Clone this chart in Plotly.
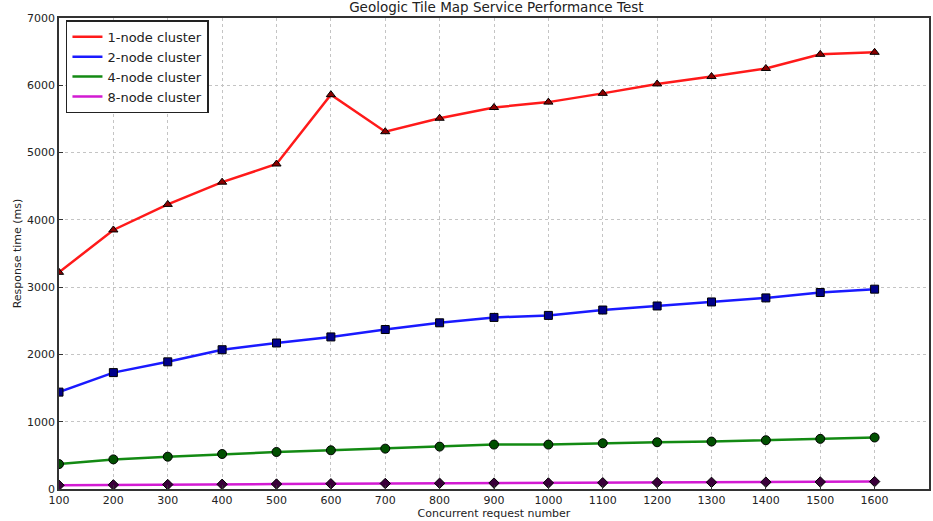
import plotly.graph_objects as go

requests = [100, 200, 300, 400, 500, 600, 700, 800, 900, 1000, 1100, 1200, 1300, 1400, 1500, 1600]
node1 = [3220, 3850, 4230, 4560, 4830, 5860, 5310, 5510, 5670, 5750, 5880, 6020, 6130, 6250, 6460, 6490]
node2 = [1440, 1730, 1890, 2070, 2170, 2260, 2370, 2470, 2550, 2580, 2660, 2720, 2780, 2840, 2920, 2970]
node4 = [370, 440, 480, 520, 550, 575, 600, 630, 660, 660, 680, 695, 705, 725, 745, 765]
node8 = [55, 62, 66, 70, 74, 78, 82, 85, 88, 90, 93, 96, 99, 102, 105, 110]
series_names = ["1-node cluster", "2-node cluster", "4-node cluster", "8-node cluster"]
x_ticks = requests
y_ticks = [0, 1000, 2000, 3000, 4000, 5000, 6000, 7000]

colors = ["#ff1a1a", "#1a1aff", "#138a13", "#d21ad2"]
markers = ["triangle-up", "square", "circle", "diamond"]
msizes = [8, 8, 9, 8]
fills = ["#8a0000", "#00008a", "#005000", "#3a003a"]

fig = go.Figure()
for name, ys, c, m, s, f in zip(series_names, [node1, node2, node4, node8], colors, markers, msizes, fills):
    fig.add_trace(go.Scatter(
        x=requests, y=ys, mode="lines+markers", name=name, showlegend=False,
        line=dict(color=c, width=2.5),
        marker=dict(symbol=m, size=s, color=f, line=dict(color="black", width=1)),
    ))
for name, c in zip(series_names, colors):
    fig.add_trace(go.Scatter(x=[None], y=[None], mode="lines", name=name,
                             line=dict(color=c, width=2.5)))

axis_common = dict(
    showline=True, linecolor="#333", linewidth=1.5, mirror=True,
    ticks="inside", ticklen=4, tickcolor="#333",
    showgrid=True, gridcolor="#c4c4c4", griddash="dot", gridwidth=1,
    zeroline=False, tickfont=dict(size=11, color="#222"),
)

fig.update_layout(
    width=933, height=521,
    margin=dict(l=59, r=2, t=18, b=32),
    paper_bgcolor="white", plot_bgcolor="white",
    font=dict(family="DejaVu Sans", color="#222"),
    title=dict(text="Geologic Tile Map Service Performance Test", x=0.532, xanchor="center",
               y=0.996, yanchor="top", font=dict(size=13.5, color="#222")),
    xaxis=dict(range=[100, 1700], tickvals=x_ticks,
               title=dict(text="Concurrent request number", font=dict(size=11), standoff=0),
               **axis_common),
    yaxis=dict(range=[0, 7000], tickvals=y_ticks,
               title=dict(text="Response time (ms)", font=dict(size=11), standoff=3),
               **axis_common),
    legend=dict(x=0.008, y=0.995, xanchor="left", yanchor="top",
                bgcolor="white", bordercolor="#222", borderwidth=1.5,
                font=dict(size=13, color="#222"), tracegroupgap=0),
)

fig.write_html("out.html", config={"displayModeBar": False},
               post_script="document.body.style.margin='0';")
